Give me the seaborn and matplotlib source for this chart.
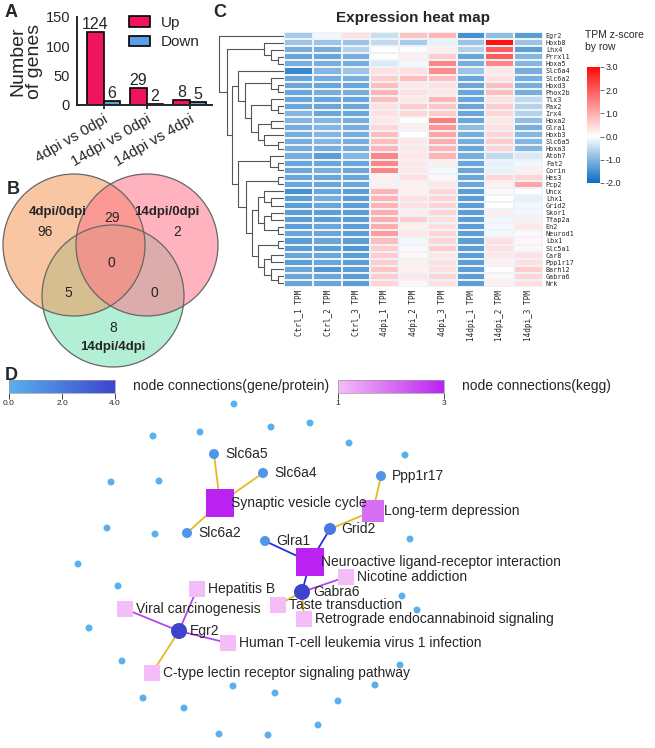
import numpy as np
import pandas as pd
import seaborn as sns
import matplotlib as mpl
import matplotlib.pyplot as plt
from matplotlib.colors import LinearSegmentedColormap, Normalize
from matplotlib.patches import Circle

# ---------------- data ----------------
# panel A
comparisons = ["4dpi vs 0dpi", "14dpi vs 0dpi", "14dpi vs 4dpi"]
up_counts = [124, 29, 8]
down_counts = [6, 2, 5]

# panel B (venn region counts, key = membership in sets 1/2/3)
venn_sets = ["4dpi/0dpi", "14dpi/0dpi", "14dpi/4dpi"]
venn_counts = {"100": 96, "010": 2, "001": 8, "110": 29, "101": 5, "011": 0, "111": 0}

# panel C
samples = ["Ctrl_1 TPM", "Ctrl_2 TPM", "Ctrl_3 TPM", "4dpi_1 TPM", "4dpi_2 TPM",
           "4dpi_3 TPM", "14dpi_1 TPM", "14dpi_2 TPM", "14dpi_3 TPM"]
genes = ["Egr2", "Hoxb8", "Lhx4", "Prrxl1", "Hoxa5", "Slc6a4", "Slc6a2", "Hoxd3", "Phox2b",
         "Tlx3", "Pax2", "Irx4", "Hoxa2", "Glra1", "Hoxb3", "Slc6a5", "Hoxa3", "Atoh7",
         "Fat2", "Corin", "Hes3", "Pcp2", "Uncx", "Lhx1", "Grid2", "Skor1", "Tfap2a", "En2",
         "Neurod1", "Lbx1", "Slc5a1", "Car8", "Ppp1r17", "Barhl2", "Gabra6", "Nrk"]
zscores = np.array([
    [-0.7, -0.1, 0.4, -0.45, 0.7, 0.9, -1.5, -0.9, -1.3],
    [-0.8, -0.8, -0.8, -0.5, -0.7, -0.2, -0.8, 2.9, -0.8],
    [-1.1, -1.1, -0.6, 0.0, 0.05, 0.2, -0.6, 2.0, -1.3],
    [-1.2, -1.2, -1.1, 0.05, 0.2, 0.6, -1.2, 2.0, -1.0],
    [-1.1, -1.1, -1.1, -0.3, -0.1, 1.5, -1.1, 1.5, -1.0],
    [-1.6, -1.0, -0.8, 0.4, 0.4, 1.4, -0.8, 0.3, -1.1],
    [-1.2, -1.1, -1.1, 0.6, 0.8, 0.8, -1.2, 0.4, -1.1],
    [-1.2, -1.2, -1.2, 0.8, 0.3, 0.4, -1.2, 0.8, -1.1],
    [-1.2, -1.1, -1.1, 0.9, 0.4, 0.3, -1.2, 0.8, -1.1],
    [-1.2, -1.2, -1.2, 0.8, 0.3, 0.9, -1.2, 0.4, -0.5],
    [-1.2, -1.2, -1.2, 0.4, 0.6, 0.7, -1.2, 0.6, -0.6],
    [-1.0, -1.2, -1.2, 0.4, 0.5, 0.6, -1.2, 0.5, -0.6],
    [-1.0, -1.0, -1.1, 0.3, 0.05, 1.6, -1.2, 0.3, -0.9],
    [-1.1, -1.0, -1.1, 0.5, 0.2, 1.3, -0.9, 0.4, -1.1],
    [-1.1, -1.0, -1.1, 0.8, 0.0, 1.1, -1.1, 0.5, -1.0],
    [-1.1, -1.0, -1.1, 0.8, 0.3, 1.0, -1.1, 0.6, -1.0],
    [-1.1, -1.1, -1.1, 0.9, 0.3, 0.9, -1.2, 0.5, -1.0],
    [-1.1, -1.3, -1.0, 1.5, 0.3, 0.9, -1.1, -0.5, -0.3],
    [-1.2, -1.2, -1.2, 1.5, 0.3, 0.2, -1.2, -0.2, -0.1],
    [-1.2, -1.1, -1.2, 1.5, 0.3, -0.1, -1.2, -0.2, 0.2],
    [-1.2, -1.2, -1.2, 0.2, 0.4, 0.1, -1.2, 0.5, 0.5],
    [-1.2, -1.2, -1.2, 0.2, 0.2, 0.3, -1.2, 0.2, 1.1],
    [-1.5, -1.2, -1.3, 0.9, 0.2, 0.5, -1.3, 0.1, 0.0],
    [-1.3, -1.1, -1.3, 0.9, 0.4, 0.5, -1.3, 0.0, -0.2],
    [-1.3, -1.2, -1.3, 0.9, 0.4, 0.5, -1.3, 0.0, -0.1],
    [-1.3, -1.3, -1.3, 1.0, 0.2, 0.5, -1.3, 0.2, -0.1],
    [-1.3, -1.3, -1.3, 1.0, 0.6, 0.4, -1.3, -0.1, 0.2],
    [-1.3, -1.2, -1.3, 1.0, 0.2, 0.4, -1.3, -0.1, 0.3],
    [-1.2, -1.2, -1.3, 1.2, 0.3, 0.5, -1.3, -0.1, 0.1],
    [-1.3, -1.2, -1.3, 0.8, -0.1, 0.5, -1.3, 0.4, 0.1],
    [-1.3, -1.3, -1.4, 0.6, 0.1, 0.6, -1.3, 0.4, 0.1],
    [-1.2, -1.2, -1.3, 0.6, 0.1, 0.3, -1.3, 0.3, 0.4],
    [-1.3, -1.2, -1.3, 0.6, 0.2, 0.4, -1.3, 0.2, 0.4],
    [-1.2, -1.4, -1.3, 0.7, 0.2, 0.4, -1.3, 0.0, 0.6],
    [-1.2, -1.2, -1.3, 0.6, 0.3, 0.5, -1.3, 0.1, 0.5],
    [-1.2, -1.2, -1.3, 0.5, 0.1, 0.4, -1.3, 0.2, 0.4],
])
# row dendrogram merges: (new cluster, left, right, height); ints are row indices
row_merges = [
    ("b3", 3, 4, 6.3), ("b2", 2, "b3", 13), ("B", 1, "b2", 19.7),
    ("d78", 7, 8, 6.3), ("d3", 6, "d78", 13),
    ("d1011", 10, 11, 6.3), ("d9", 9, "d1011", 13),
    ("d1213", 12, 13, 13), ("d1516", 15, 16, 6.3), ("d6", 14, "d1516", 19.7),
    ("d5", "d1213", "d6", 26.3), ("d4", "d9", "d5", 33.3), ("d2", "d3", "d4", 39),
    ("D", 5, "d2", 45.7),
    ("e1819", 18, 19, 6.3), ("e1", 17, "e1819", 14), ("e3", 20, 21, 6.3),
    ("e2324", 23, 24, 13), ("e7", 22, "e2324", 19.7),
    ("e2526", 25, 26, 13), ("e2728", 27, 28, 6.3), ("e8", "e2526", "e2728", 19.7),
    ("e5", "e7", "e8", 26.3),
    ("e2930", 29, 30, 6.3), ("e3132", 31, 32, 13), ("e3435", 34, 35, 6.3),
    ("e33", 33, "e3435", 13), ("e9", "e3132", "e33", 19.7), ("e6", "e2930", "e9", 26.3),
    ("e4", "e5", "e6", 32.3), ("e2", "e3", "e4", 38.3), ("E", "e1", "e2", 45.7),
    ("C", "D", "E", 52.3), ("A", "B", "C", 57.3), ("root", 0, "A", 65),
]

# panel D network
gene_names = ["Slc6a5", "Slc6a4", "Slc6a2", "Ppp1r17", "Grid2", "Glra1", "Gabra6", "Egr2"]
gene_x = [214, 263, 187, 381, 330, 265, 302, 179]
gene_y = [454, 473, 533, 476, 529, 541, 592, 631]
kegg_names = ["Synaptic vesicle cycle", "Long-term depression",
              "Neuroactive ligand-receptor interaction", "Nicotine addiction",
              "Taste transduction", "Retrograde endocannabinoid signaling", "Hepatitis B",
              "Viral carcinogenesis", "Human T-cell leukemia virus 1 infection",
              "C-type lectin receptor signaling pathway"]
kegg_x = [220, 373, 310, 346, 278, 304, 197, 125, 228, 152]
kegg_y = [503, 511, 562, 577, 605, 619, 589, 609, 643, 673]
edges = [("Slc6a5", "Synaptic vesicle cycle", 1), ("Slc6a4", "Synaptic vesicle cycle", 1),
         ("Slc6a2", "Synaptic vesicle cycle", 1), ("Ppp1r17", "Long-term depression", 1),
         ("Grid2", "Long-term depression", 1),
         ("Grid2", "Neuroactive ligand-receptor interaction", 2),
         ("Glra1", "Neuroactive ligand-receptor interaction", 2),
         ("Gabra6", "Neuroactive ligand-receptor interaction", 2),
         ("Gabra6", "Nicotine addiction", 3), ("Gabra6", "Taste transduction", 1),
         ("Gabra6", "Retrograde endocannabinoid signaling", 1),
         ("Egr2", "Hepatitis B", 3), ("Egr2", "Viral carcinogenesis", 3),
         ("Egr2", "Human T-cell leukemia virus 1 infection", 3),
         ("Egr2", "C-type lectin receptor signaling pathway", 1)]
lone_x = [234, 153, 200, 271, 310, 349, 405, 111, 159, 107, 155, 410, 78, 118, 402, 417,
          89, 122, 143, 184, 219, 268, 233, 275, 318, 338, 375, 400]
lone_y = [404, 436, 432, 427, 423, 443, 455, 482, 481, 528, 534, 539, 564, 586, 596, 610,
          628, 661, 698, 708, 734, 735, 686, 693, 725, 701, 685, 665]

# ---------------- style ----------------
sns.set_style("white")
plt.rcParams["font.family"] = ["Liberation Sans", "DejaVu Sans"]
W, H = 655, 748
fig = plt.figure(figsize=(W / 100, H / 100), dpi=100)


def px_axes(x0, y0, x1, y1):
    return fig.add_axes([x0 / W, 1 - y1 / H, (x1 - x0) / W, (y1 - y0) / H])


# ---------------- A: bar chart ----------------
axA = px_axes(77, 17, 212, 105)
bar_df = pd.DataFrame({"comparison": comparisons * 2,
                       "direction": ["Up"] * 3 + ["Down"] * 3,
                       "count": up_counts + down_counts})
sns.barplot(data=bar_df, x="comparison", y="count", hue="direction",
            palette={"Up": "#F0145C", "Down": "#5A9EE8"}, saturation=1,
            edgecolor="black", linewidth=1.2, width=0.76, ax=axA)
for cont in axA.containers:
    axA.bar_label(cont, fontsize=11.5, padding=0)
axA.set_xlim(-0.62, 2.52)
axA.set_ylim(0, 150)
axA.set_yticks([0, 50, 100, 150])
axA.set_xlabel("")
axA.set_ylabel("Number\nof genes", fontsize=14, labelpad=2, linespacing=0.95)
axA.tick_params(axis="y", labelsize=10.5, length=4, width=1.3, pad=1)
axA.tick_params(axis="x", labelsize=11, length=3, width=1.3, pad=2, bottom=True)
plt.setp(axA.get_xticklabels(), rotation=30, ha="right", rotation_mode="anchor")
for s in ["top", "right"]:
    axA.spines[s].set_visible(False)
for s in ["left", "bottom"]:
    axA.spines[s].set_linewidth(1.4)
axA.legend(frameon=False, loc="upper left", bbox_to_anchor=(0.34, 1.08), fontsize=11,
           handlelength=1.4, handleheight=0.7, handletextpad=0.7, labelspacing=0.35,
           borderaxespad=0)
fig.text(5 / W, 1 - 4 / H, "A", fontsize=13, weight="bold", va="top")

# ---------------- B: venn ----------------
axB = px_axes(0, 165, 225, 372)
axB.set_xlim(0, 225)
axB.set_ylim(372, 165)
axB.axis("off")
venn_circles = [((74, 245), "#F49758"), ((147, 245), "#FF7589"), ((113, 296), "#73E2B4")]
for i in [2, 0, 1]:
    (cx, cy), col = venn_circles[i]
    axB.add_patch(Circle((cx, cy), 71, facecolor=col, alpha=0.55, edgecolor="none"))
for (cx, cy), col in venn_circles:
    axB.add_patch(Circle((cx, cy), 71, facecolor="none", edgecolor="#666666", lw=0.9))
region_pos = {"100": (45, 232), "010": (177, 232), "001": (113, 328), "110": (112, 218),
              "101": (68, 293), "011": (154, 293), "111": (111, 263)}
for key, (tx, ty) in region_pos.items():
    axB.text(tx, ty, str(venn_counts[key]), ha="center", va="center", fontsize=10)
set_pos = [(58, 212), (167, 212), (113, 347)]
for name, (tx, ty) in zip(venn_sets, set_pos):
    axB.text(tx, ty, name, ha="center", va="center", fontsize=9.5, weight="bold")
fig.text(7 / W, 1 - 181 / H, "B", fontsize=13, weight="bold", va="top")

# ---------------- C: heatmap ----------------
axH = px_axes(284, 32, 543, 287)
cax = px_axes(587, 67, 600, 183)
z_cmap = LinearSegmentedColormap.from_list(
    "zrow", [(0, "#0A6CC2"), (0.4, "#FFFFFF"), (1.0, "#FF0A0A")])
zdf = pd.DataFrame(zscores, index=genes, columns=samples)
sns.heatmap(zdf, cmap=z_cmap, vmin=-2, vmax=3, ax=axH, cbar_ax=cax,
            linewidths=0.3, linecolor="#EEF3F8", xticklabels=True, yticklabels=True)
axH.yaxis.tick_right()
axH.set_yticklabels(genes, rotation=0, fontsize=4.9, family="DejaVu Sans Mono")
axH.set_xticklabels(samples, rotation=90, fontsize=5.5, family="DejaVu Sans Mono")
axH.tick_params(length=0, pad=2)
axH.set_title("Expression heat map", fontsize=11, weight="bold", pad=7)
cbar = axH.collections[0].colorbar
cbar.set_ticks([-2, -1, 0, 1, 2, 3])
cbar.set_ticklabels([f"{v:.1f}" for v in [-2, -1, 0, 1, 2, 3]])
cbar.outline.set_visible(False)
cax.tick_params(labelsize=6.5, length=3, width=0.6, pad=1, color="#555555")
fig.text(585 / W, 1 - 30 / H, "TPM z-score\nby row", fontsize=7.5, va="top", linespacing=1.2)
fig.text(213 / W, 1 - 4 / H, "C", fontsize=13, weight="bold", va="top")

# dendrogram
axD = px_axes(218, 32, 284, 287)
axD.set_xlim(66, 0)
axD.set_ylim(len(genes), 0)
axD.axis("off")
tree_pos = {}


def node_pos(n):
    if isinstance(n, int):
        return n + 0.5, 0.0
    return tree_pos[n]


for name, left, right, h in row_merges:
    yl, hl = node_pos(left)
    yr, hr = node_pos(right)
    axD.plot([hl, h, h, hr], [yl, yl, yr, yr], color="#555555", lw=0.8)
    tree_pos[name] = ((yl + yr) / 2, h)

# ---------------- D: network ----------------
fig.text(5 / W, 1 - 367 / H, "D", fontsize=13, weight="bold", va="top")
gene_cmap = LinearSegmentedColormap.from_list("g", ["#58B0F0", "#3D45CF"])
kegg_cmap = LinearSegmentedColormap.from_list("k", ["#F4BDF7", "#BA22F2"])
gnorm, knorm = Normalize(0, 4), Normalize(1, 3)

caxg = px_axes(9, 380, 115, 393)
cb1 = fig.colorbar(mpl.cm.ScalarMappable(norm=gnorm, cmap=gene_cmap), cax=caxg,
                   orientation="horizontal", ticks=[0, 2, 4])
cb1.set_ticklabels(["0.0", "2.0", "4.0"])
caxk = px_axes(338, 380, 444, 393)
cb2 = fig.colorbar(mpl.cm.ScalarMappable(norm=knorm, cmap=kegg_cmap), cax=caxk,
                   orientation="horizontal", ticks=[1, 3])
for cb, ca in [(cb1, caxg), (cb2, caxk)]:
    cb.outline.set_linewidth(0.5)
    cb.outline.set_edgecolor("#999999")
    ca.tick_params(labelsize=6, length=4, width=0.6, pad=1)
fig.text(133 / W, 1 - 386 / H, "node connections(gene/protein)", fontsize=10, va="center")
fig.text(462 / W, 1 - 386 / H, "node connections(kegg)", fontsize=10, va="center")

axN = px_axes(0, 396, 655, 748)

pos = {n: (x, y) for n, x, y in zip(gene_names, gene_x, gene_y)}
pos.update({n: (x, y) for n, x, y in zip(kegg_names, kegg_x, kegg_y)})
edge_colors = {1: "#E2B925", 2: "#2233E0", 3: "#B446EE"}
for a, b, grp in edges:
    (x1, y1), (x2, y2) = pos[a], pos[b]
    axN.plot([x1, x2], [y1, y2], color=edge_colors[grp], lw=1.3, zorder=1)

gdeg = [sum(a == g for a, _, _ in edges) for g in gene_names]
kdeg = [sum(b == k for _, b, _ in edges) for k in kegg_names]
node_df = pd.DataFrame({"x": lone_x + gene_x, "y": lone_y + gene_y,
                        "deg": [0] * len(lone_x) + gdeg})
kegg_df = pd.DataFrame({"x": kegg_x, "y": kegg_y, "deg": kdeg})
gene_sizes = {0: 25, 1: 52, 2: 75, 3: 100, 4: 133}
kegg_sizes = {1: 117, 2: 250, 3: 400}
sns.scatterplot(data=node_df, x="x", y="y", hue="deg", size="deg", sizes=gene_sizes,
                palette={d: gene_cmap(gnorm(d)) for d in gene_sizes}, linewidth=0,
                legend=False, ax=axN, zorder=3)
sns.scatterplot(data=kegg_df, x="x", y="y", hue="deg", size="deg", sizes=kegg_sizes,
                palette={d: kegg_cmap(knorm(d)) for d in kegg_sizes}, marker="s",
                linewidth=0, legend=False, ax=axN, zorder=3)
axN.set_xlim(0, 655)
axN.set_ylim(748, 396)
axN.axis("off")
for n in gene_names + kegg_names:
    x, y = pos[n]
    axN.text(x + 11, y, n, fontsize=10, va="center", ha="left", zorder=4)

fig.savefig("out.png", dpi=100)
